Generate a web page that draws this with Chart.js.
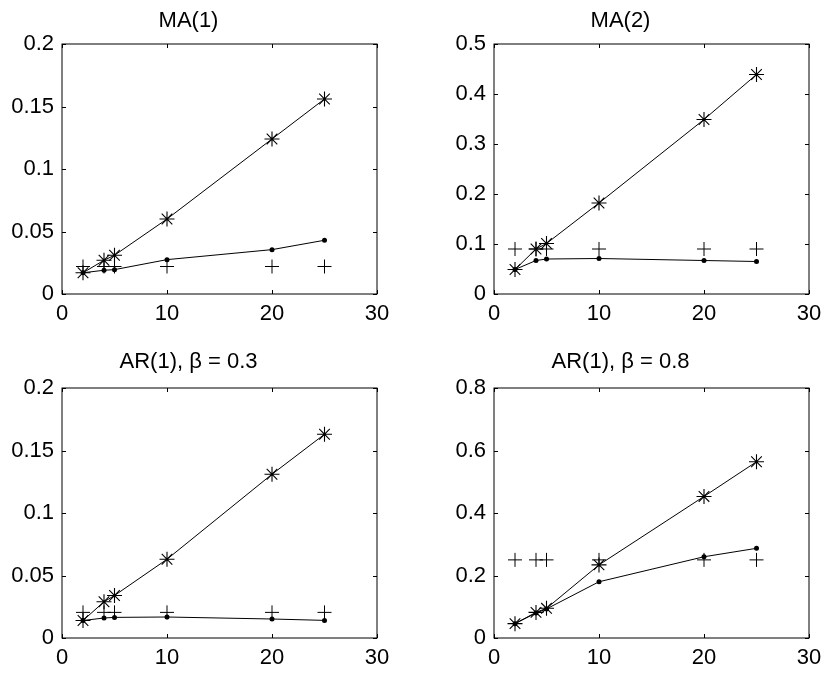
<!DOCTYPE html>
<html>
<head>
<meta charset="utf-8">
<script src="https://cdn.jsdelivr.net/npm/chart.js@4"></script>
<style>
  body { margin: 0; background: #fff; }
  #page { position: relative; width: 824px; height: 677px; }
  .panel { position: absolute; }
</style>
</head>
<body>
<div id="page"></div>
<script>
// lag / sample values on the x axis
const nValues = [2, 4, 5, 10, 20, 25];

// MA(1)
const ma1Star = [0.017, 0.027, 0.031, 0.060, 0.124, 0.156];
const ma1Dot  = [0.017, 0.019, 0.0195, 0.0275, 0.0355, 0.043];
const ma1Plus = [0.022, 0.022, 0.022, 0.022, 0.022, 0.022];

// MA(2)
const ma2Star = [0.049, 0.090, 0.101, 0.182, 0.349, 0.439];
const ma2Dot  = [0.049, 0.067, 0.070, 0.071, 0.067, 0.065];
const ma2Plus = [0.09, 0.09, 0.09, 0.09, 0.09, 0.09];

// AR(1), beta = 0.3
const ar3Star = [0.014, 0.029, 0.034, 0.063, 0.131, 0.163];
const ar3Dot  = [0.014, 0.016, 0.0165, 0.0168, 0.0152, 0.0141];
const ar3Plus = [0.0205, 0.0205, 0.0205, 0.0205, 0.0205, 0.0205];

// AR(1), beta = 0.8
const ar8Star = [0.046, 0.082, 0.095, 0.234, 0.453, 0.564];
const ar8Dot  = [0.046, 0.080, 0.093, 0.180, 0.260, 0.287];
const ar8Plus = [0.25, 0.25, 0.25, 0.25, 0.25, 0.25];

const titles = ['MA(1)', 'MA(2)', 'AR(1), \u03b2 = 0.3', 'AR(1), \u03b2 = 0.8'];
const yMax = [0.2, 0.5, 0.2, 0.8];
const yStep = [0.05, 0.1, 0.05, 0.2];
const xTicks = [0, 10, 20, 30];

const FONT = '"Liberation Sans", Arial, Helvetica, sans-serif';
const FSIZE = 22;

// box around the axes + inward ticks on all four sides (matlab look)
const boxTicks = {
    id: 'boxTicks',
    afterDraw(chart) {
        const { ctx, chartArea: a, scales: { x, y } } = chart;
        const len = 4;
        ctx.save();
        ctx.strokeStyle = '#000';
        ctx.lineWidth = 1;
        ctx.strokeRect(a.left, a.top, a.right - a.left, a.bottom - a.top);
        ctx.beginPath();
        x.ticks.forEach(t => {
            const px = Math.round(x.getPixelForValue(t.value)) + 0.5;
            ctx.moveTo(px, a.bottom); ctx.lineTo(px, a.bottom - len);
            ctx.moveTo(px, a.top); ctx.lineTo(px, a.top + len);
        });
        y.ticks.forEach(t => {
            const py = Math.round(y.getPixelForValue(t.value)) + 0.5;
            ctx.moveTo(a.left, py); ctx.lineTo(a.left + len, py);
            ctx.moveTo(a.right, py); ctx.lineTo(a.right - len, py);
        });
        ctx.stroke();
        ctx.restore();
    }
};

function pts(ys) {
    return nValues.map((n, i) => ({ x: n, y: ys[i] }));
}

function makePanel(idx, left, top, titleTop, series) {
    const W = 62 + 315 + 30, H = 44 + 250 + 40;
    const lh = FSIZE * 1.2;
    const div = document.createElement('div');
    div.className = 'panel';
    div.style.left = (left - 62) + 'px';
    div.style.top = (top - 44) + 'px';
    const canvas = document.createElement('canvas');
    canvas.width = W;
    canvas.height = H;
    div.appendChild(canvas);
    document.getElementById('page').appendChild(div);

    new Chart(canvas.getContext('2d'), {
        type: 'scatter',
        data: {
            datasets: [{
                data: pts(series[0]),
                showLine: true,
                borderColor: '#000',
                borderWidth: 1,
                pointStyle: 'star',
                pointRadius: 7.5,
                pointBorderColor: '#000',
                pointBorderWidth: 1.1
            }, {
                data: pts(series[1]),
                showLine: true,
                borderColor: '#000',
                borderWidth: 1,
                pointStyle: 'circle',
                pointRadius: 2.5,
                pointBackgroundColor: '#000',
                pointBorderColor: '#000',
                pointBorderWidth: 0
            }, {
                data: pts(series[2]),
                showLine: false,
                pointStyle: 'cross',
                pointRadius: 7,
                pointBorderColor: '#000',
                pointBorderWidth: 1
            }]
        },
        options: {
            responsive: false,
            animation: false,
            layout: { padding: { right: 30, left: 0, top: 0, bottom: 0 } },
            plugins: {
                legend: { display: false },
                tooltip: { enabled: false },
                title: {
                    display: true,
                    text: titles[idx],
                    color: '#000',
                    font: { family: FONT, size: FSIZE, weight: 'normal' },
                    padding: { top: titleTop, bottom: 44 - lh - titleTop }
                }
            },
            scales: {
                x: {
                    type: 'linear',
                    min: 0, max: 30,
                    afterBuildTicks: s => { s.ticks = xTicks.map(v => ({ value: v })); },
                    afterFit: s => { s.height = 40; },
                    grid: { display: false, drawTicks: false },
                    border: { display: false },
                    ticks: {
                        color: '#000', padding: 7, maxRotation: 0,
                        font: { family: FONT, size: FSIZE }
                    }
                },
                y: {
                    type: 'linear',
                    min: 0, max: yMax[idx],
                    afterFit: s => { s.width = 62; },
                    grid: { display: false, drawTicks: false },
                    border: { display: false },
                    ticks: {
                        stepSize: yStep[idx],
                        color: '#000', padding: 8,
                        font: { family: FONT, size: FSIZE },
                        callback: v => String(Number(v.toFixed(4)))
                    }
                }
            }
        },
        plugins: [boxTicks]
    });
}

makePanel(0, 62, 44, 8, [ma1Star, ma1Dot, ma1Plus]);
makePanel(1, 494, 44, 8, [ma2Star, ma2Dot, ma2Plus]);
makePanel(2, 62, 388, 5, [ar3Star, ar3Dot, ar3Plus]);
makePanel(3, 494, 388, 5, [ar8Star, ar8Dot, ar8Plus]);
</script>
</body>
</html>
